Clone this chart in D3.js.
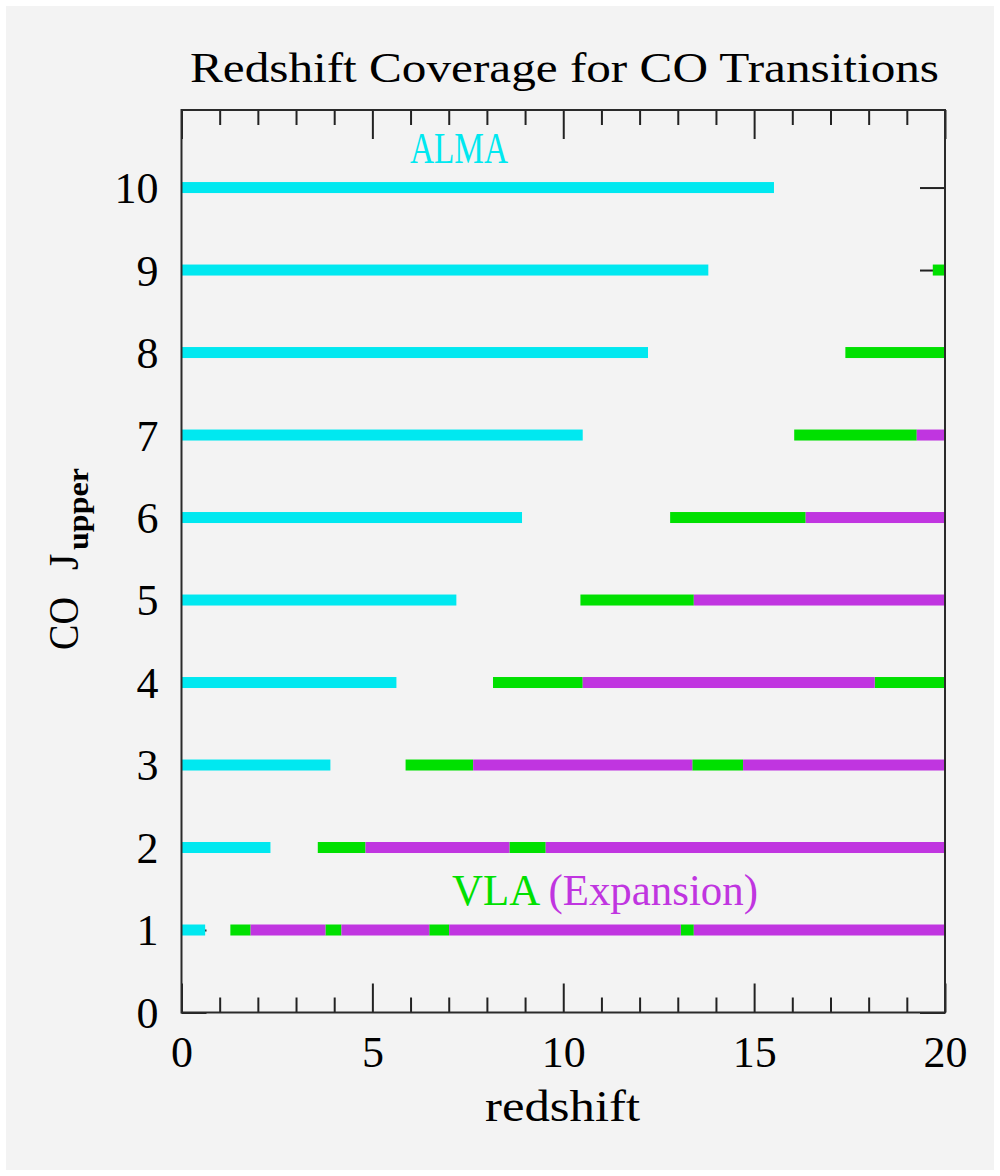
<!DOCTYPE html>
<html>
<head>
<meta charset="utf-8">
<script src="https://cdn.jsdelivr.net/npm/d3@7"></script>
<style>
  html, body { margin: 0; padding: 0; background: #ffffff; }
  svg { display: block; }
  text { font-family: "Liberation Serif", "DejaVu Serif", serif; }
</style>
</head>
<body>
<svg id="chart" width="1000" height="1176"></svg>
<script>
// CO rotational transitions (upper level J)
const jUpper = [1, 2, 3, 4, 5, 6, 7, 8, 9, 10];

// ALMA coverage: redshift 0 up to this value, per transition
const almaMaxZ = [0.62, 2.33, 3.90, 5.63, 7.20, 8.92, 10.51, 12.22, 13.80, 15.52];

// VLA coverage segments [J, zStart, zEnd]
const vlaCurrent = [
  [1, 1.28, 1.81], [1, 3.77, 4.19], [1, 6.49, 7.01], [1, 13.08, 13.42],
  [2, 3.57, 4.82], [2, 8.59, 9.54],
  [3, 5.87, 7.64], [3, 13.38, 14.71],
  [4, 8.16, 10.51], [4, 18.16, 20],
  [5, 10.45, 13.42],
  [6, 12.80, 16.35],
  [7, 16.05, 19.26],
  [8, 17.39, 20],
  [9, 19.68, 20]
];

// Expanded VLA coverage segments [J, zStart, zEnd]
const vlaExpansion = [
  [1, 1.81, 3.77], [1, 4.19, 6.49], [1, 7.01, 13.08], [1, 13.42, 20],
  [2, 4.82, 8.59], [2, 9.54, 20],
  [3, 7.64, 13.38], [3, 14.71, 20],
  [4, 10.51, 18.16],
  [5, 13.42, 20],
  [6, 16.35, 20],
  [7, 19.26, 20]
];

const xMajorTicks = [0, 5, 10, 15, 20];
const xMinorTicks = d3.range(0, 21).filter(d => d % 5 !== 0);
const yTicks = d3.range(0, 11);

const colors = { alma: "#00e8f0", vla: "#00e000", expansion: "#c035e0" };

const svg = d3.select("#chart");
const plot = { left: 181.5, right: 945, top: 110, bottom: 1012.5 };

const x = d3.scaleLinear().domain([0, 20]).range([plot.left, plot.right]);
const y = d3.scaleLinear().domain([0, 10.94]).range([plot.bottom, plot.top]);

// panel background
svg.append("rect")
  .attr("x", 6).attr("y", 6).attr("width", 988).attr("height", 1164)
  .attr("fill", "#f3f3f3");

function styleAxis(g) {
  g.select(".domain").remove();
  g.selectAll(".tick line").attr("stroke", "#222").attr("stroke-width", 2);
  g.selectAll(".tick text")
    .attr("fill", "#000")
    .style("font-family", '"Liberation Serif", "DejaVu Serif", serif')
    .style("font-size", "44px");
}

// bottom axis: major ticks with labels, minor ticks without
svg.append("g").attr("transform", `translate(0,${plot.bottom})`)
  .call(d3.axisBottom(x).tickValues(xMajorTicks).tickSizeInner(-29).tickSizeOuter(0)
    .tickPadding(23).tickFormat(d3.format("d")))
  .call(styleAxis);
svg.append("g").attr("transform", `translate(0,${plot.bottom})`)
  .call(d3.axisBottom(x).tickValues(xMinorTicks).tickSizeInner(-15).tickSizeOuter(0).tickFormat(""))
  .call(styleAxis);

// top axis mirrors the bottom one
svg.append("g").attr("transform", `translate(0,${plot.top})`)
  .call(d3.axisTop(x).tickValues(xMajorTicks).tickSizeInner(-29).tickSizeOuter(0).tickFormat(""))
  .call(styleAxis);
svg.append("g").attr("transform", `translate(0,${plot.top})`)
  .call(d3.axisTop(x).tickValues(xMinorTicks).tickSizeInner(-15).tickSizeOuter(0).tickFormat(""))
  .call(styleAxis);

// left and right axes
svg.append("g").attr("transform", `translate(${plot.left},0)`)
  .call(d3.axisLeft(y).tickValues(yTicks).tickSizeInner(-25).tickSizeOuter(0)
    .tickPadding(23).tickFormat(d3.format("d")))
  .call(styleAxis)
  .call(g => g.selectAll(".tick text").attr("dy", "0.34em"));
svg.append("g").attr("transform", `translate(${plot.right},0)`)
  .call(d3.axisRight(y).tickValues(yTicks).tickSizeInner(-25).tickSizeOuter(0).tickFormat(""))
  .call(styleAxis);

// coverage bars
const barH = 11;
const bars = svg.append("g");

bars.selectAll("rect.alma")
  .data(jUpper.map((j, i) => [j, 0, almaMaxZ[i]]))
  .join("rect").attr("class", "alma")
  .attr("x", d => x(d[1])).attr("width", d => x(d[2]) - x(d[1]))
  .attr("y", d => y(d[0]) - barH / 2).attr("height", barH)
  .attr("fill", colors.alma);

bars.selectAll("rect.vla")
  .data(vlaCurrent)
  .join("rect").attr("class", "vla")
  .attr("x", d => x(d[1])).attr("width", d => x(d[2]) - x(d[1]))
  .attr("y", d => y(d[0]) - barH / 2).attr("height", barH)
  .attr("fill", colors.vla);

bars.selectAll("rect.exp")
  .data(vlaExpansion)
  .join("rect").attr("class", "exp")
  .attr("x", d => x(d[1])).attr("width", d => x(d[2]) - x(d[1]))
  .attr("y", d => y(d[0]) - barH / 2).attr("height", barH)
  .attr("fill", colors.expansion);

// frame
svg.append("rect")
  .attr("x", plot.left).attr("y", plot.top)
  .attr("width", plot.right - plot.left).attr("height", plot.bottom - plot.top)
  .attr("fill", "none").attr("stroke", "#2a2a2a").attr("stroke-width", 2);

// title
svg.append("text")
  .attr("x", 190).attr("y", 82)
  .attr("font-size", 42).attr("fill", "#000")
  .attr("textLength", 749).attr("lengthAdjust", "spacingAndGlyphs")
  .text("Redshift Coverage for CO Transitions");

// x-axis title
svg.append("text")
  .attr("x", 485).attr("y", 1121)
  .attr("font-size", 44).attr("fill", "#000")
  .attr("textLength", 155).attr("lengthAdjust", "spacingAndGlyphs")
  .text("redshift");

// y-axis title, rotated
const yt = svg.append("g").attr("transform", "translate(78,650) rotate(-90)");
yt.append("text").attr("x", 0).attr("y", 0)
  .attr("font-size", 42).attr("fill", "#000")
  .attr("textLength", 53).attr("lengthAdjust", "spacingAndGlyphs")
  .text("CO");
yt.append("text").attr("x", 80).attr("y", 0)
  .attr("font-size", 42).attr("fill", "#000")
  .text("J");
yt.append("text").attr("x", 100).attr("y", 10)
  .attr("font-size", 30).attr("font-weight", "bold").attr("fill", "#000")
  .attr("textLength", 82).attr("lengthAdjust", "spacingAndGlyphs")
  .text("upper");

// instrument labels
svg.append("text")
  .attr("x", 410).attr("y", 163)
  .attr("font-size", 44).attr("fill", colors.alma)
  .attr("textLength", 98).attr("lengthAdjust", "spacingAndGlyphs")
  .text("ALMA");

const vlaLabel = svg.append("text")
  .attr("x", 452).attr("y", 905)
  .attr("font-size", 44)
  .attr("textLength", 306).attr("lengthAdjust", "spacingAndGlyphs");
vlaLabel.append("tspan").attr("fill", colors.vla).text("VLA ");
vlaLabel.append("tspan").attr("fill", colors.expansion).text("(Expansion)");
</script>
</body>
</html>
